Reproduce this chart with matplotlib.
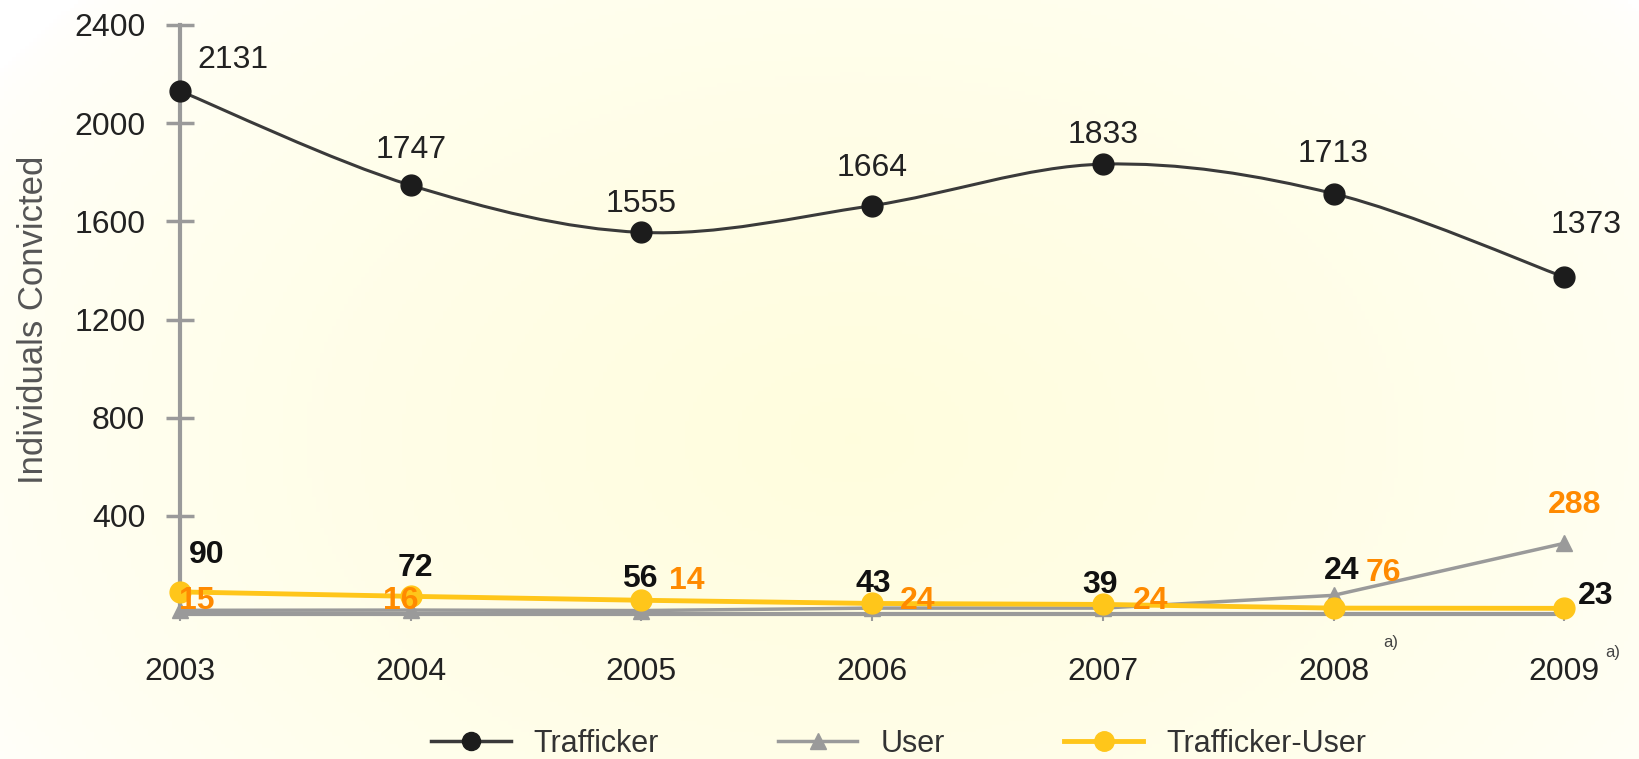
#!/usr/bin/env python3
"""Individuals convicted per year, by offender type (2003-2009)."""

import numpy as np
import matplotlib
matplotlib.use("Agg")
import matplotlib.pyplot as plt
from matplotlib.path import Path
from matplotlib.patches import PathPatch
from matplotlib.lines import Line2D

years = [2003, 2004, 2005, 2006, 2007, 2008, 2009]
year_labels = ["2003", "2004", "2005", "2006", "2007", "2008", "2009"]
trafficker = [2131, 1747, 1555, 1664, 1833, 1713, 1373]
user = [15, 16, 14, 24, 24, 76, 288]
trafficker_user = [90, 72, 56, 43, 39, 24, 23]
y_ticks = [400, 800, 1200, 1600, 2000, 2400]

# label offsets in pixels (dx, dy), per point
OFF_T = [(53, 31), (0, 35), (0, 28), (0, 38), (0, 29), (0, 40), (22, 52)]
OFF_TU = [(27, 37), (5, 28), (-2, 21), (1, 19), (-3, 19), (8, 37), (31, 12)]
OFF_U = [(17, 9), (-10, 9), (45, 30), (46, 7), (48, 7), (50, 22), (10, 38)]

BLACK = "#1c1c1c"
GREY = "#9a9a9a"
YELLOW = "#ffc61a"
ORANGE = "#ff8a00"
FS = 23


def smooth_path(xs, ys, t=0.5):
    # Catmull-Rom style curve handed to matplotlib as cubic Bezier segments
    verts = [(xs[0], ys[0])]
    codes = [Path.MOVETO]
    n = len(xs)
    for i in range(n - 1):
        x0, y0 = (xs[i - 1], ys[i - 1]) if i > 0 else (xs[i], ys[i])
        x1, y1 = xs[i], ys[i]
        x2, y2 = xs[i + 1], ys[i + 1]
        x3, y3 = (xs[i + 2], ys[i + 2]) if i + 2 < n else (x2, y2)
        c1 = (x1 + (x2 - x0) * t / 3, y1 + (y2 - y0) * t / 3)
        c2 = (x2 - (x3 - x1) * t / 3, y2 - (y3 - y1) * t / 3)
        verts += [c1, c2, (x2, y2)]
        codes += [Path.CURVE4] * 3
    return Path(verts, codes)


plt.rcParams["font.family"] = ["Liberation Sans", "DejaVu Sans"]
px = 72.0 / 100.0

fig = plt.figure(figsize=(16.4, 7.59), dpi=100)

# soft yellow glow behind the plot
bg = fig.add_axes([0, 0, 1, 1], zorder=-5)
gx, gy = np.meshgrid(np.linspace(0, 1, 400), np.linspace(0, 1, 200))
r = np.sqrt(((gx - 0.52) / 0.62) ** 2 + ((gy - 0.42) / 0.9) ** 2)
w = np.clip(1 - r, 0, 1) ** 0.55
img = np.ones((200, 400, 3))
img[..., 1] = 1 - 0.006 * w
img[..., 2] = 1 - 0.13 * w
bg.imshow(img, aspect="auto", extent=[0, 1, 0, 1], origin="lower")
bg.axis("off")

ax = fig.add_axes([180 / 1640, 1 - 614 / 759, (1610 - 180) / 1640, (614 - 25) / 759])
ax.set_facecolor("none")
ax.set_xlim(2003, 2003 + (1610 - 180) / 230.7)
ax.set_ylim(0, 2400)

# trafficker: smooth curve
ax.add_patch(PathPatch(smooth_path(years, trafficker), fill=False, edgecolor="#3a3a3a",
                       linewidth=2.2, zorder=3))
ax.plot(years, trafficker, linestyle="none", marker="o", markersize=15,
        color=BLACK, zorder=4, clip_on=False)

ax.plot(years, user, color=GREY, linewidth=2.5, marker="^", markersize=12,
        zorder=3, clip_on=False)
ax.plot(years, trafficker_user, color=YELLOW, linewidth=3.5, marker="o",
        markersize=15, zorder=5, clip_on=False)

for x, v, (dx, dy) in zip(years, trafficker, OFF_T):
    ax.annotate(str(v), (x, v), xytext=(dx * px, dy * px), textcoords="offset points",
                ha="center", va="center", fontsize=FS, color="#222222")
for x, v, (dx, dy) in zip(years, trafficker_user, OFF_TU):
    ax.annotate(str(v), (x, v), xytext=(dx * px, dy * px), textcoords="offset points",
                ha="center", va="center", fontsize=FS, fontweight="bold", color="#111111",
                zorder=6)
for x, v, (dx, dy) in zip(years, user, OFF_U):
    ax.annotate(str(v), (x, v), xytext=(dx * px, dy * px), textcoords="offset points",
                ha="center", va="center", fontsize=FS, fontweight="bold", color=ORANGE,
                zorder=6)

ax.set_yticks(y_ticks)
ax.set_yticklabels([str(t) for t in y_ticks])
ax.set_xticks(years)
ax.set_xticklabels(year_labels)
ax.tick_params(axis="y", direction="inout", length=20, width=2.5, color=GREY,
               labelsize=FS, pad=15, labelcolor="#222222")
ax.tick_params(axis="x", direction="inout", length=10, width=1.5, color=GREY,
               labelsize=FS, pad=26, labelcolor="#222222")

for s in ["top", "right"]:
    ax.spines[s].set_visible(False)
ax.spines["left"].set_color(GREY)
ax.spines["left"].set_linewidth(3)
ax.spines["bottom"].set_color(GREY)
ax.spines["bottom"].set_linewidth(3)
ax.spines["bottom"].set_bounds(2003, 2009)

ax.set_ylabel("Individuals Convicted", fontsize=25, color="#555555")
ax.yaxis.set_label_coords(-(180 - 50) / 1430, 0.5)

# footnote markers
fig.text(1391 / 1640, 1 - 643 / 759, "a)", fontsize=12, color="#444444", ha="center", va="center")
fig.text(1613 / 1640, 1 - 652 / 759, "a)", fontsize=12, color="#444444", ha="center", va="center")

handles = [
    Line2D([], [], color="#3a3a3a", linewidth=2.5, marker="o", markersize=13, markerfacecolor=BLACK,
           markeredgecolor=BLACK),
    Line2D([], [], color=GREY, linewidth=2.5, marker="^", markersize=11),
    Line2D([], [], color=YELLOW, linewidth=3.5, marker="o", markersize=14),
]
fig.legend(handles, ["Trafficker", "User", "Trafficker-User"], loc="center",
           bbox_to_anchor=(0.548, 0.02), ncol=3, frameon=False, fontsize=22,
           handlelength=2.6, columnspacing=3.9, handletextpad=0.75,
           labelcolor="#333333")

fig.savefig("out.png", dpi=100)
